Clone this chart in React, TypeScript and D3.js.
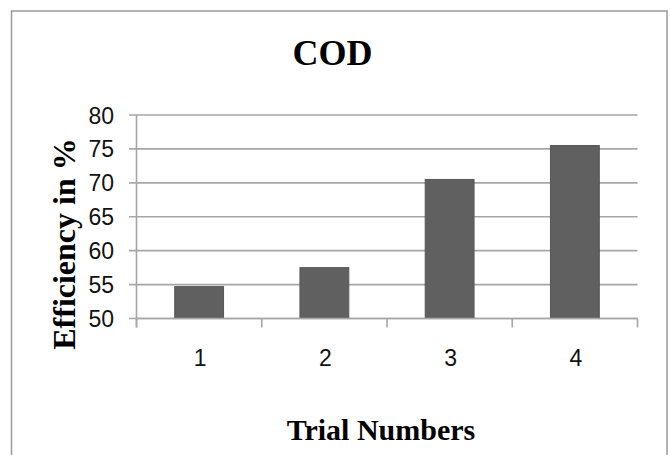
import * as d3 from 'd3';

const trials = ['1', '2', '3', '4'];
const efficiency = [54.7, 57.5, 70.5, 75.5];
const yTicks = [50, 55, 60, 65, 70, 75, 80];

const width = 670;
const height = 455;
const margin = { top: 115, right: 32.5, bottom: 455 - 318.5, left: 136.5 };

export default function App() {
  // Scales
  const x = d3.scaleBand<string>()
    .domain(trials)
    .range([margin.left, width - margin.right])
    .paddingInner(0.61)
    .paddingOuter(0.305);

  const y = d3.scaleLinear()
    .domain([50, 80])
    .range([height - margin.bottom, margin.top]);

  const [x0, x1] = x.range();
  const step = x.step();
  const bandEdges = trials.map((_, i) => x0 + i * (x1 - x0) / trials.length);
  bandEdges.push(x1);

  const tickFont = "'Liberation Sans', Arial, sans-serif";
  const serif = "'Liberation Serif', 'Times New Roman', serif";
  const grey = '#a6a6a6';

  return (
    <svg width={width} height={height} viewBox={`0 0 ${width} ${height}`}
      style={{ position: 'absolute', left: 0, top: 0, background: '#fff' }}>
      {/* chart border */}
      <rect x={11.5} y={11} width={655.5} height={460} fill="#fff" stroke="#9a9a9a" strokeWidth={1.5} />

      {/* title */}
      <text x={332.5} y={65} textAnchor="middle" fontFamily={serif} fontWeight="bold" fontSize={36}>COD</text>

      {/* gridlines and y ticks */}
      {yTicks.map(t => (
        <g key={t}>
          <line x1={x0 - 7.5} x2={x1} y1={y(t)} y2={y(t)} stroke={grey} strokeWidth={1.6} />
          <text x={114} y={y(t) + 8.5} textAnchor="end" fontFamily={tickFont} fontSize={23} fill="#111">{t}</text>
        </g>
      ))}

      {/* y axis line */}
      <line x1={x0} x2={x0} y1={y(80)} y2={y(50) + 9} stroke={grey} strokeWidth={1.6} />

      {/* bars */}
      {trials.map((t, i) => (
        <rect key={t}
          x={x(t)}
          y={y(efficiency[i])}
          width={x.bandwidth()}
          height={y(50) - y(efficiency[i])}
          fill="#606060"
          stroke="#575757"
          strokeWidth={1} />
      ))}

      {/* x axis line and ticks */}
      <line x1={x0} x2={x1} y1={y(50)} y2={y(50)} stroke={grey} strokeWidth={1.6} />
      {bandEdges.map((e, i) => (
        <line key={i} x1={e} x2={e} y1={y(50)} y2={y(50) + 9} stroke={grey} strokeWidth={1.6} />
      ))}

      {/* x tick labels */}
      {trials.map(t => (
        <text key={t} x={(x(t) ?? 0) + x.bandwidth() / 2 + 1} y={366} textAnchor="middle"
          fontFamily={tickFont} fontSize={23} fill="#111">{t}</text>
      ))}

      {/* axis titles */}
      <text x={381} y={440} textAnchor="middle" fontFamily={serif} fontWeight="bold" fontSize={30}>Trial Numbers</text>
      <text transform={`translate(75,244) rotate(-90)`} textAnchor="middle" fontFamily={serif}
        fontWeight="bold" fontSize={32}>Efficiency in %</text>
    </svg>
  );
}
